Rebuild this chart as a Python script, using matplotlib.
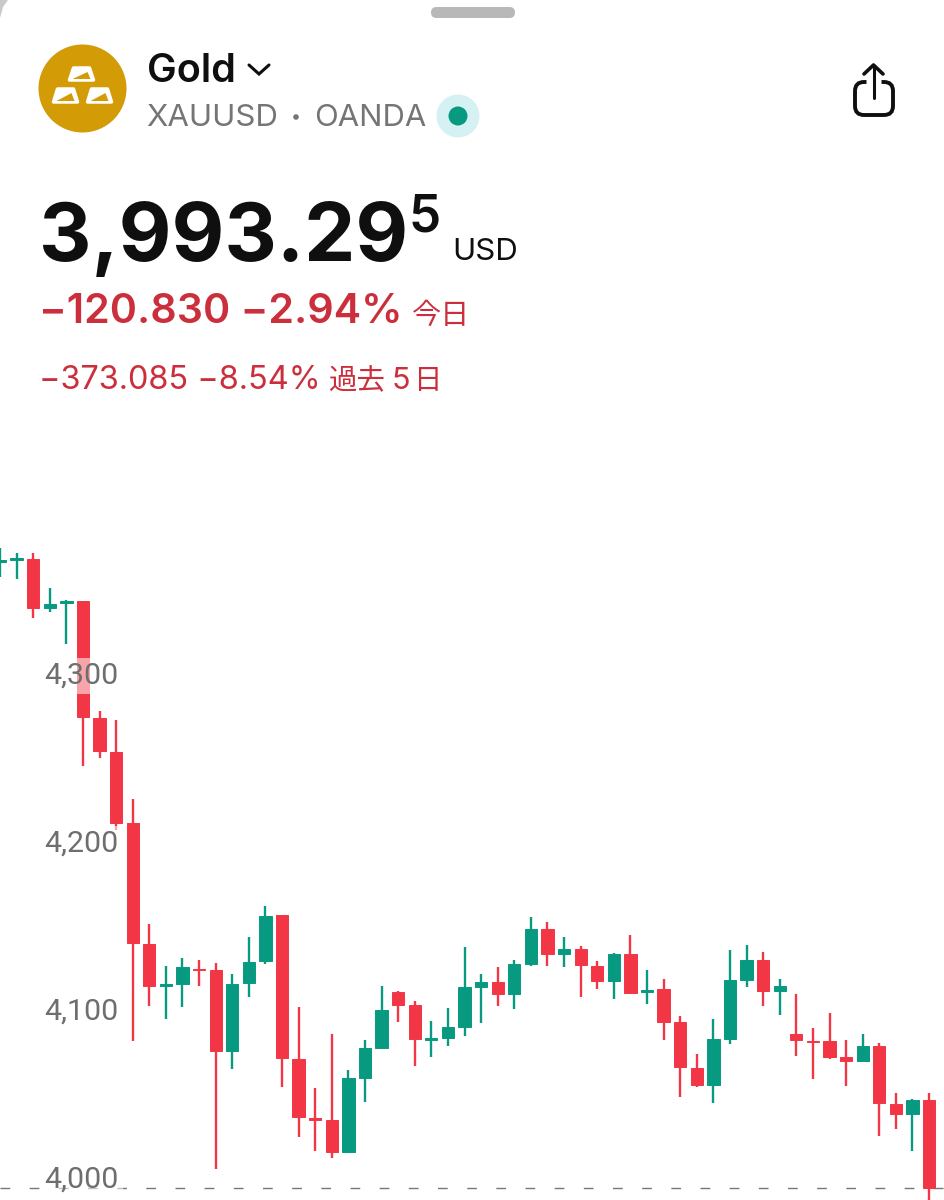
import matplotlib
matplotlib.use('Agg')
import matplotlib.pyplot as plt
from matplotlib.patches import Circle, FancyBboxPatch, Polygon

opens = [4366.2, 4367.3, 4367.8, 4338.7, 4341.6, 4342.8, 4273.2, 4253.0, 4210.7, 4138.7,
         4113.8, 4114.9, 4124.0, 4123.2, 4075.0, 4115.5, 4128.6, 4155.9, 4070.2, 4035.0,
         4033.9, 4014.9, 4058.9, 4076.8, 4110.1, 4102.4, 4081.6, 4082.7, 4089.3, 4113.1,
         4116.1, 4108.9, 4126.8, 4147.6, 4132.7, 4135.7, 4125.6, 4116.7, 4132.7, 4110.2,
         4111.9, 4092.3, 4064.9, 4054.8, 4082.1, 4117.3, 4129.2, 4110.7, 4085.1, 4081.2,
         4080.9, 4071.4, 4069.0, 4078.0, 4043.5, 4037.5, 4045.8]
highs = [4374.4, 4371.4, 4371.4, 4350.6, 4343.4, 4342.8, 4277.4, 4272.0, 4225.0, 4150.6,
         4125.6, 4130.4, 4129.2, 4127.4, 4120.8, 4142.8, 4161.3, 4155.9, 4101.2, 4053.0,
         4085.1, 4063.7, 4081.5, 4113.7, 4110.7, 4104.8, 4092.9, 4100.6, 4136.9, 4120.8,
         4125.0, 4129.2, 4154.8, 4151.8, 4142.8, 4137.5, 4128.6, 4133.3, 4144.0, 4123.2,
         4117.9, 4095.8, 4073.2, 4094.0, 4135.1, 4138.1, 4133.9, 4117.9, 4108.9, 4088.7,
         4097.6, 4081.5, 4085.1, 4079.8, 4050.0, 4046.4, 4050.0]
lows = [4357.1, 4355.9, 4332.7, 4336.3, 4317.2, 4244.6, 4249.4, 4206.5, 4080.9, 4101.8,
        4094.0, 4101.2, 4113.7, 4004.8, 4064.3, 4107.1, 4126.8, 4053.6, 4023.8, 4015.5,
        4011.3, 4014.9, 4044.6, 4076.2, 4092.3, 4066.1, 4071.4, 4078.0, 4083.9, 4091.7,
        4101.8, 4100.0, 4125.6, 4125.6, 4125.0, 4107.1, 4111.9, 4105.9, 4108.9, 4103.0,
        4081.5, 4047.6, 4053.6, 4044.0, 4079.2, 4113.1, 4101.8, 4096.4, 4072.0, 4058.3,
        4070.2, 4054.2, 4069.0, 4024.4, 4028.6, 4015.5, 3983.0]
closes = [4367.2, 4368.3, 4338.7, 4341.1, 4342.8, 4273.8, 4253.6, 4210.7, 4139.3, 4113.7,
          4114.8, 4125.0, 4123.0, 4075.0, 4114.9, 4128.0, 4155.3, 4070.8, 4035.7, 4034.0,
          4014.9, 4058.9, 4076.8, 4099.4, 4102.4, 4082.1, 4082.6, 4089.3, 4113.1, 4116.1,
          4108.9, 4126.8, 4147.6, 4132.7, 4135.7, 4126.2, 4116.7, 4132.7, 4109.5, 4111.2,
          4092.3, 4065.5, 4054.8, 4082.1, 4117.3, 4129.2, 4110.7, 4113.7, 4081.5, 4080.4,
          4071.4, 4069.0, 4078.0, 4044.0, 4037.5, 4045.8, 3993.3]
price_ticks = [4000, 4100, 4200, 4300]
price_labels = ['4,000', '4,100', '4,200', '4,300']
last_price = 3993.3

RED = '#f23645'
GREEN = '#089981'
TEXT_RED = '#cc2f3c'
BLACK = '#0f0f0f'
GRAY = '#757575'
FONT = ['Inter', 'Noto Sans CJK JP', 'DejaVu Sans']
CJK = ['Noto Sans CJK JP', 'DejaVu Sans']

plt.rcParams['font.family'] = FONT

fig = plt.figure(figsize=(9.45, 12), dpi=100, facecolor='white')

# chart part, lower section of the screen
ax = fig.add_axes([0, 0, 1, 780 / 1200])
ax.set_xlim(0, 56.96)
ax.set_ylim(3986.3, 4450.6)
for side in ax.spines.values():
    side.set_visible(False)

ax.axhline(last_price, color='#777777', lw=1.0, dashes=(7, 14), zorder=1)

x = list(range(len(opens)))
colors = [GREEN if c >= o else RED for o, c in zip(opens, closes)]
ax.vlines(x, lows, highs, colors=colors, lw=1.7, zorder=2)
bottoms = [min(o, c) for o, c in zip(opens, closes)]
heights = [abs(o - c) for o, c in zip(opens, closes)]
ax.bar(x, heights, bottom=bottoms, width=0.74, color=colors, edgecolor=colors, lw=0.7, zorder=2)

ax.set_axisbelow(False)
ax.set_xticks([])
ax.set_yticks(price_ticks)
ax.set_yticklabels(price_labels, family='Roboto')
ax.tick_params(axis='y', length=0, direction='in', pad=-85.5, labelsize=21.8, labelcolor='#6e6e6e')
for label in ax.get_yticklabels():
    label.set_bbox(dict(fc='white', ec='none', alpha=0.55, pad=3))

# header part, drawn in pixel coordinates
ui = fig.add_axes([0, 0, 1, 1], facecolor='none')
ui.set_xlim(0, 945)
ui.set_ylim(1200, 0)
ui.axis('off')

# rounded card corner and drag handle
ui.add_patch(Polygon([(0, 0), (8, 0), (3, 7), (0, 18)], closed=True, fc='#c9c9c9', ec='none'))
ui.add_patch(FancyBboxPatch((431, 7), 84, 11, boxstyle='round,pad=0,rounding_size=5.5', fc='#b8b8b8', ec='none'))

# gold icon
ui.add_patch(Circle((82.5, 88.5), 44, fc='#d39b06', ec='none'))
for bx, top, bot in [(81.5, 68, 80), (65.5, 89, 102), (99.5, 89, 102)]:
    ui.add_patch(Polygon([(bx - 8, top), (bx + 8, top), (bx + 12, bot), (bx - 12, bot)],
                         closed=True, fc='white', ec='white', lw=2.5, joinstyle='round'))
    ui.add_patch(Polygon([(bx - 9, bot - 1), (bx + 6, top + 4), (bx + 9, bot - 1)],
                         closed=True, fc='#d39b06', ec='none'))

ui.text(147, 82, 'Gold', fontsize=28.5, fontweight=600, color=BLACK, va='baseline')
ui.plot([249, 259, 269], [65, 74, 65], color=BLACK, lw=2.2, solid_capstyle='round', solid_joinstyle='miter')
ui.text(146, 126, 'XAUUSD', fontsize=22.5, color=GRAY, va='baseline')
ui.add_patch(Circle((296, 117), 2.8, fc=GRAY, ec='none'))
ui.text(314, 126, 'OANDA', fontsize=22.3, color=GRAY, va='baseline')
ui.add_patch(Circle((458, 116), 21.5, fc='#d6f1f3', ec='none'))
ui.add_patch(Circle((458, 116), 9.5, fc='#089981', ec='none'))

# share icon
ui.add_patch(FancyBboxPatch((855, 82), 38, 33, boxstyle='round,pad=0,rounding_size=9', fc='none', ec=BLACK, lw=2.8))
ui.plot([866, 880.5], [82, 82], color='white', lw=5, solid_capstyle='butt')
ui.plot([873.5, 873.5], [67, 98], color=BLACK, lw=2.2, solid_capstyle='round')
ui.plot([864, 873.5, 883], [74, 65, 74], color=BLACK, lw=2.6, solid_capstyle='round')

# price block
ui.text(39, 261, '3,993.29', fontsize=58.5, fontweight=700, color=BLACK, va='baseline')
ui.text(408, 232, '5', fontsize=37, fontweight=600, color=BLACK, va='baseline')
ui.text(452, 260, 'USD', fontsize=22.5, color=BLACK, va='baseline')
ui.text(39, 323, '\u2212120.830 \u22122.94%', fontsize=29.7, fontweight=600, color=TEXT_RED, va='baseline')
ui.text(412, 324, '今日', fontsize=21, color=TEXT_RED, va='baseline', family=CJK)
ui.text(39, 389, '\u2212373.085 \u22128.54%', fontsize=23.4, color=TEXT_RED, va='baseline')
ui.text(329, 389, '過去', fontsize=20.5, color=TEXT_RED, va='baseline', family=CJK)
ui.text(392, 389, '5', fontsize=22, color=TEXT_RED, va='baseline')
ui.text(414, 389, '日', fontsize=20.5, color=TEXT_RED, va='baseline', family=CJK)

fig.savefig('out.png', dpi=100, facecolor='white')
